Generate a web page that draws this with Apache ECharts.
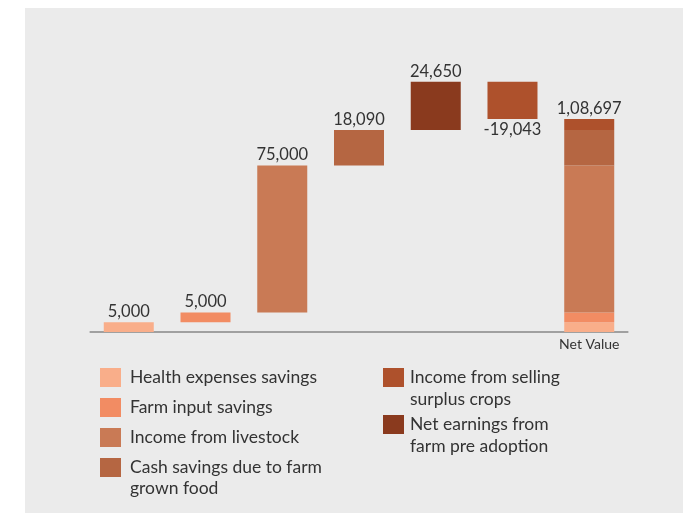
<!DOCTYPE html>
<html>
<head>
<meta charset="utf-8">
<script src="https://cdn.jsdelivr.net/npm/echarts@6/dist/echarts.min.js"></script>
<style>
  html, body { margin: 0; padding: 0; background: #ffffff; }
  #chart { width: 691px; height: 513px; }
</style>
</head>
<body>
<div id="chart"></div>
<script>
// ---- data ----
const categories = [
  'Health expenses savings',
  'Farm input savings',
  'Income from livestock',
  'Cash savings due to farm grown food',
  'Net earnings from farm pre adoption',
  'Income from selling surplus crops',
  'Net Value'
];
const changes = [5000, 5000, 75000, 18090, 24650, -19043];
const netValue = 108697;
const axisLabels = ['', '', '', '', '', '', 'Net Value'];
const legendLeftA = ['Health expenses savings', 'Farm input savings', 'Income from livestock'];
const legendLeftB = ['Cash savings due to farm grown food'];
const legendRightC = ['Income from selling surplus crops'];
const legendRightD = ['Net earnings from farm pre adoption'];
const legendText = {
  'Cash savings due to farm grown food': 'Cash savings due to farm\ngrown food',
  'Income from selling surplus crops': 'Income from selling\nsurplus crops',
  'Net earnings from farm pre adoption': 'Net earnings from\nfarm pre adoption'
};
const colors = ['#F9AE8A', '#F28C63', '#C97A55', '#B56642', '#8A3A1E', '#AE512C'];

// ---- helpers ----
function fmtIN(n) {
  const s = Math.abs(n).toString();
  let last3 = s.slice(-3), rest = s.slice(0, -3);
  if (rest) last3 = ',' + last3;
  rest = rest.replace(/\B(?=(\d{2})+(?!\d))/g, ',');
  return (n < 0 ? '-' : '') + rest + last3;
}

// waterfall bases
const bases = [];
let running = 0;
changes.forEach(function (c) {
  if (c >= 0) { bases.push(running); running += c; }
  else { running += c; bases.push(running); }
});
bases.push(0);
const netIdx = categories.length - 1;
const firstFourSum = changes.slice(0, 4).reduce(function (a, b) { return a + b; }, 0);
const netTopPart = netValue - firstFourSum;

const FONT = 'Lato';
const labelStyle = { fontFamily: FONT, fontSize: 16.5, color: '#333333', distance: 2 };

const series = [{
  name: 'base', type: 'bar', stack: 'w', barWidth: 50,
  itemStyle: { color: 'transparent' }, emphasis: { disabled: true }, silent: true,
  data: bases
}];
for (let i = 0; i < 6; i++) {
  const data = categories.map(function () { return '-'; });
  data[i] = {
    value: Math.abs(changes[i]),
    label: Object.assign({ show: true, position: changes[i] < 0 ? 'bottom' : 'top', formatter: fmtIN(changes[i]) }, labelStyle)
  };
  if (i < 4) data[netIdx] = changes[i];
  if (i === 5) {
    data[netIdx] = {
      value: netTopPart,
      label: Object.assign({ show: true, position: 'top', formatter: fmtIN(netValue) }, labelStyle)
    };
  }
  series.push({
    name: categories[i], type: 'bar', stack: 'w', barWidth: 50,
    itemStyle: { color: colors[i] },
    label: { show: false },
    data: data
  });
}

// two-line legend entries get a leading blank line so the first line sits level with the swatch
function legendCfg(names, left, top, lineHeight, twoLine, gap, padLeft) {
  return {
    data: names, orient: 'vertical', left: left, top: top, padding: 0,
    itemWidth: 21, itemHeight: 19, itemGap: gap, icon: 'rect', selectedMode: false,
    formatter: function (n) { return (twoLine ? '\n' : '') + (legendText[n] || n); },
    textStyle: {
      fontFamily: FONT, fontSize: 17.5, color: '#333333', lineHeight: lineHeight,
      padding: [0, 0, 0, padLeft]
    }
  };
}
const legA = legendCfg(legendLeftA, 100, 368, 19, false, 11, 4);
const legB = legendCfg(legendLeftB, 100, 458 - 22, 21, true, 0, 4);
const legC = legendCfg(legendRightC, 383, 368 - 23.5, 22, true, 0, 1);
const legD = legendCfg(legendRightD, 383, 415 - 23.5, 22, true, 0, 1);

const chart = echarts.init(document.getElementById('chart'), null, { renderer: 'canvas' });
chart.setOption({
  backgroundColor: '#ffffff',
  animation: false,
  graphic: [{
    type: 'rect', left: 25, top: 8, z: -10, silent: true,
    shape: { width: 658, height: 505 }, style: { fill: '#ebebeb' }
  }],
  grid: { left: 90.4, right: 63.4, top: 57.7, bottom: 181 },
  xAxis: {
    type: 'category', data: categories,
    axisLine: { lineStyle: { color: '#a0a0a0', width: 2 } },
    axisTick: { show: false },
    axisLabel: {
      interval: 0, margin: 5, fontFamily: FONT, fontSize: 14, color: '#333333',
      formatter: function (v, i) { return axisLabels[i]; }
    }
  },
  yAxis: { type: 'value', min: 0, max: 140000, show: false, splitLine: { show: false } },
  legend: [legA, legB, legC, legD],
  series: series
});
</script>
</body>
</html>
